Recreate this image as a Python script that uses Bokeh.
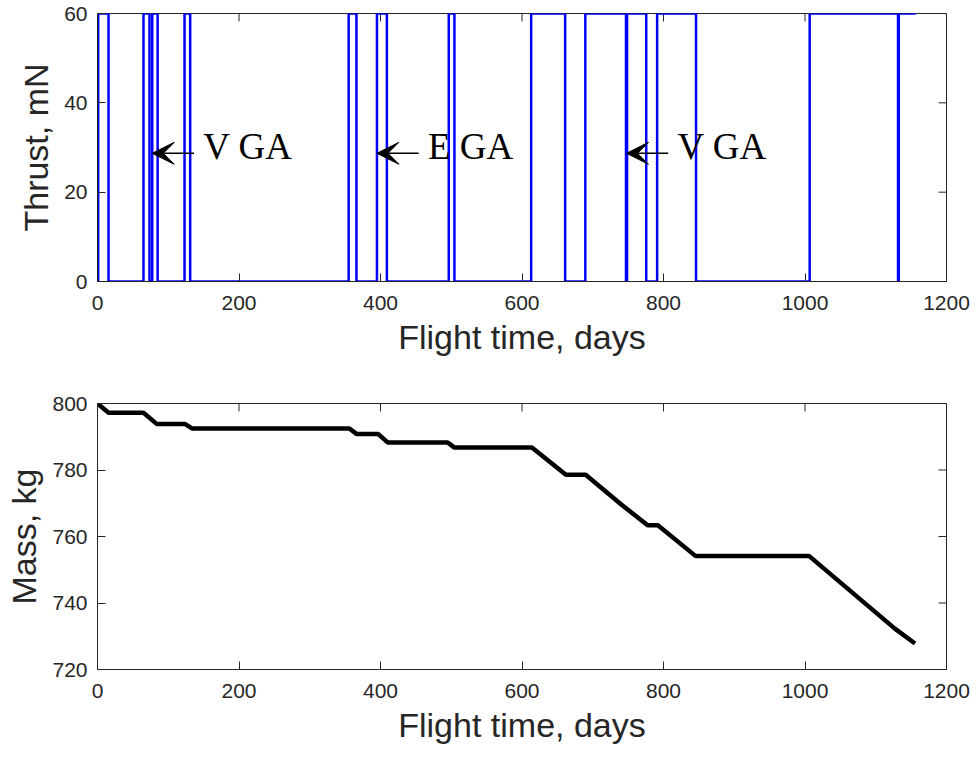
import math
from bokeh.plotting import figure
from bokeh.layouts import column
from bokeh.models import Range1d, FixedTicker, Arrow, VeeHead, Label
from bokeh.embed import file_html
from bokeh.resources import INLINE

# ---- data ----
# thrust switching times (days) and thrust level (mN) after each switch
thrust_days = [0, 1, 15.6, 65, 73.5, 77.4, 85, 123, 131, 355, 366, 395, 409,
               496.5, 504.5, 613, 661, 689.5, 747, 748.5, 775.6, 791, 846,
               1006.6, 1131.5, 1132.5, 1156.5]
thrust_mN = [0, 60, 0, 60, 0, 60, 0, 60, 0, 60, 0, 60, 0,
             60, 0, 60, 0, 60, 0, 60, 0, 60, 0,
             60, 0, 60, 60]

# spacecraft mass (kg) vs flight time (days)
mass_days = [0, 15.6, 65, 84, 124, 133.5, 356, 366.5, 397, 410, 495, 504,
             614, 662, 690, 741.6, 777.6, 792, 845.5, 1006, 1127, 1155.5]
mass_kg = [800, 797.2, 797.2, 793.8, 793.8, 792.5, 792.5, 790.8, 790.8, 788.3,
           788.3, 786.8, 786.8, 778.6, 778.6, 769.4, 763.4, 763.4, 754.1, 754.1,
           732.3, 727.8]

# gravity assists
ga_labels = ["V GA", "E GA", "V GA"]
ga_days = [77.4, 395, 747.7]
ga_thrust = 28.7

x_ticks = [0, 200, 400, 600, 800, 1000, 1200]
thrust_ticks = [0, 20, 40, 60]
mass_ticks = [720, 740, 760, 780, 800]

AX = "#262626"
SANS = "Liberation Sans"


def style(p, xt, yt, xlabel, ylabel, xmax, ymax):
    p.xgrid.visible = False
    p.ygrid.visible = False
    p.background_fill_color = "white"
    p.border_fill_color = "white"
    p.outline_line_color = AX
    p.outline_line_width = 1
    p.xaxis.ticker = FixedTicker(ticks=xt)
    p.yaxis.ticker = FixedTicker(ticks=yt)
    for ax in p.axis:
        ax.axis_line_color = AX
        ax.axis_line_width = 1
        ax.major_tick_line_color = AX
        ax.major_tick_in = 8
        ax.major_tick_out = 0
        ax.minor_tick_line_color = None
        ax.major_label_text_font = SANS
        ax.major_label_text_color = AX
        ax.major_label_text_font_size = "21px"
        ax.axis_label_text_font = SANS
        ax.axis_label_text_font_style = "normal"
        ax.axis_label_text_color = AX
        ax.axis_label_text_font_size = "34px"
    p.xaxis.axis_label = xlabel
    p.xaxis.major_label_standoff = 14
    p.xaxis.axis_label_standoff = 5
    p.yaxis.axis_label = ylabel
    p.yaxis.major_label_standoff = 10
    p.yaxis.axis_label_standoff = 6
    # inward ticks on the top and right edges of the box
    p.ray(x=xt, y=[ymax] * len(xt), length=8, length_units="screen",
          angle=-math.pi / 2, line_color=AX, line_width=1)
    p.ray(x=[xmax] * len(yt), y=yt, length=8, length_units="screen",
          angle=math.pi, line_color=AX, line_width=1)


p1 = figure(width=976, height=390, x_range=Range1d(0, 1200), y_range=Range1d(0, 60),
            output_backend="svg", toolbar_location=None,
            min_border_left=97, min_border_right=30, min_border_top=13, min_border_bottom=109)
style(p1, x_ticks, thrust_ticks, "Flight time, days", "Thrust, mN", 1200, 60)
p1.step(thrust_days, thrust_mN, mode="after", line_color="#0000ff", line_width=2.5)

for lab, d in zip(ga_labels, ga_days):
    p1.add_layout(Arrow(end=VeeHead(size=22, fill_color="black", line_color="black"),
                        x_start=d + 59, y_start=ga_thrust, x_end=d, y_end=ga_thrust,
                        line_color="black", line_width=1.5))
    p1.add_layout(Label(x=d + 72, y=ga_thrust + 1.6, text=lab, text_font="Liberation Serif",
                        text_font_size="37px", text_color="black", text_baseline="middle"))

p2 = figure(width=976, height=367, x_range=Range1d(0, 1200), y_range=Range1d(720, 800),
            output_backend="svg", toolbar_location=None,
            min_border_left=97, min_border_right=30, min_border_top=13, min_border_bottom=88)
style(p2, x_ticks, mass_ticks, "Flight time, days", "Mass, kg", 1200, 800)
p2.line(mass_days, mass_kg, line_color="black", line_width=4.5)

layout = column(p1, p2, spacing=0)
open("out.html", "w").write(file_html(layout, INLINE))
